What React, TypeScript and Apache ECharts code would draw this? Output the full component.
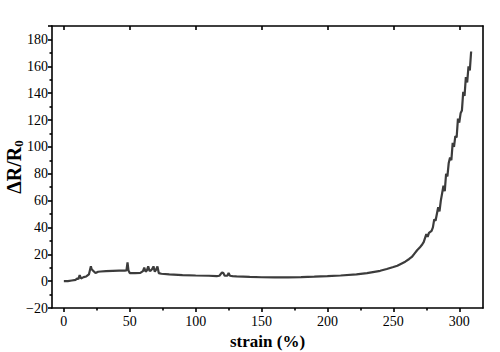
import React, { useEffect, useRef } from "react";
import * as echarts from "echarts";

const strain = [0,3,6,9,10,11,12,13,15,17,19,20,20.5,21,22,24,26,28,32,37,42,46,47.5,48.3,49,50,54,58,60,61,62,63,64,65,66,67,68,69,70,71,72,74,80,90,100,110,116,118,120,121,122,124,125,126,128,131,141,150,160,170,180,190,200,210,222,230,240,245,250,253,256,259,262,264,266,268,270,272,273,275,276,277,279,280,281,282,284,285,286,288,289,290,291,292,293,294,295,296,297,298,299,300,301,302,303,304,305,306,307,308,309];
const resistance = [0,0,0.5,1,2,1.5,4.5,2,3,3.5,5,9,11,9,8,6,7,7.2,7.5,7.7,7.8,7.8,8,14,8,6,6,6.2,7.5,10,7,8,11,7.5,8,9,11,7,8.5,11,6,5.5,5,4.5,4.2,4,3.8,4,6.5,6,4,4,6,4,3.8,3.6,3.2,2.9,2.8,2.8,3,3.3,3.7,4.2,5,6,7.7,9,10.5,11.5,13,14.5,16.5,18,20.5,23,25,27.5,29,35,33,36,37.5,40,46,45,55,52,60,71,67,80,78,88,92,90,103,100,108,107,121,118,125,127,141,138,152,148,160,157,171];

const xMajor = [0, 50, 100, 150, 200, 250, 300];
const xMinor = [25, 75, 125, 175, 225, 275];

const FONT = "'Liberation Serif', 'Times New Roman', serif";

export default function App() {
  const ref = useRef<HTMLDivElement>(null);
  useEffect(() => {
    if (!ref.current) return;
    const chart = echarts.init(ref.current, null, { renderer: "svg" });
    const data = strain.map((s, i) => [s, resistance[i]]);
    const lineStyle = { color: "#000", width: 1.6 };
    const xBase = { type: "value", min: -9, max: 318, splitLine: { show: false } };
    const yBase = { type: "value", min: -20, max: 190, splitLine: { show: false } };
    chart.setOption({
      animation: false,
      textStyle: { fontFamily: FONT },
      grid: { left: 52, top: 26, right: 17, bottom: 44, containLabel: false, outerBoundsMode: "none" },
      xAxis: [
        {
          ...xBase,
          position: "bottom",
          axisLine: { show: true, onZero: false, lineStyle },
          axisTick: { show: true, customValues: xMajor, length: 4, lineStyle },
          axisLabel: { customValues: xMajor, color: "#000", fontFamily: FONT, fontSize: 14, margin: 6 },
          name: "strain (%)",
          nameLocation: "middle",
          nameGap: 25,
          nameMoveOverlap: false,
          nameTextStyle: { color: "#000", fontFamily: FONT, fontSize: 17, fontWeight: "bold" },
        },
        {
          ...xBase,
          position: "bottom",
          axisLine: { show: false, onZero: false },
          axisTick: { show: true, customValues: xMinor, length: 2.5, lineStyle },
          axisLabel: { show: false },
        },
        {
          ...xBase,
          position: "top",
          axisLine: { show: true, onZero: false, lineStyle },
          axisTick: { show: true, inside: true, customValues: xMajor, length: 4, lineStyle },
          axisLabel: { show: false },
        },
      ],
      yAxis: [
        {
          ...yBase,
          interval: 20,
          position: "left",
          axisLine: { show: true, onZero: false, lineStyle },
          axisTick: { show: true, length: 4, lineStyle },
          minorTick: { show: true, splitNumber: 2, length: 2.5, lineStyle },
          axisLabel: { color: "#000", fontFamily: FONT, fontSize: 14, margin: 4, showMaxLabel: false,
            formatter: (v: number) => (v < 0 ? "\u2212" + Math.abs(v) : String(v)) },
          name: "{a|\u0394R/R}{b|0}",
          nameLocation: "middle",
          nameGap: 27,
          nameMoveOverlap: false,
          nameRotate: 90,
          nameTextStyle: {
            rich: {
              a: { color: "#000", fontFamily: FONT, fontSize: 20, fontWeight: "bold" },
              b: { color: "#000", fontFamily: FONT, fontSize: 13, fontWeight: "bold", verticalAlign: "bottom", padding: [9, 0, 0, 0] },
            },
          },
        },
        {
          ...yBase,
          position: "right",
          axisLine: { show: true, onZero: false, lineStyle },
          axisTick: { show: false },
          axisLabel: { show: false },
        },
      ],
      series: [
        {
          type: "line",
          data,
          xAxisIndex: 0,
          yAxisIndex: 0,
          showSymbol: false,
          lineStyle: { color: "#3c3c3c", width: 2.2 },
        },
      ],
    });
    return () => chart.dispose();
  }, []);
  return <div ref={ref} style={{ width: 500, height: 352, position: "absolute", left: 0, top: 0, background: "#fff" }} />;
}
